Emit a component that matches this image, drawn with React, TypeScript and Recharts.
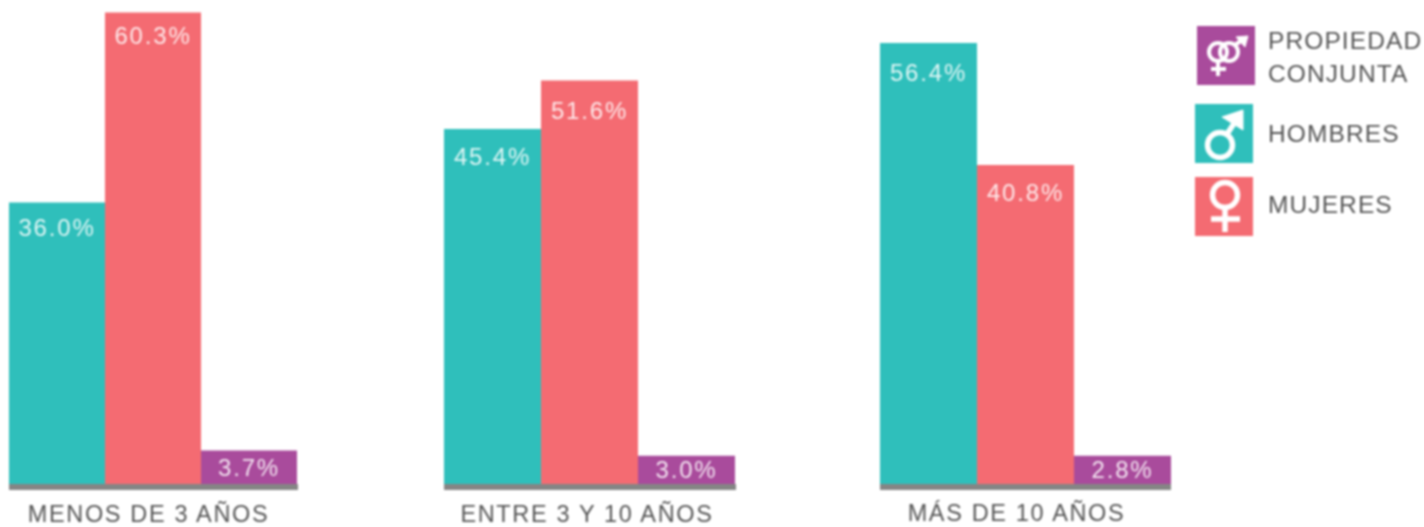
import React from "react"
import { BarChart, Bar, XAxis, YAxis, LabelList } from "recharts"

const categories = ["MENOS DE 3 AÑOS", "ENTRE 3 Y 10 AÑOS", "MÁS DE 10 AÑOS"]
const hombres = [36.0, 45.4, 56.4]
const mujeres = [60.3, 51.6, 40.8]
const conjunta = [3.7, 3.0, 2.8]
// the purple bars are drawn a little taller in the picture than their printed value
const conjuntaDrawn = [4.3, 3.6, 3.6]

const TEAL = "#2fbfbb"
const RED = "#f46b72"
const PURPLE = "#a94b9c"
const FONT = "'Liberation Sans', Arial, sans-serif"
const BASELINE = 484
const Y_MAX = 61.9

// position of each group on the page, the source placed these by hand
const groups = [
  { left: 9, width: 289, tickDx: -5, tickDy: 13.5, hombresOffset: 16, mujeresOffset: 14 },
  { left: 444, width: 292, tickDx: -3, tickDy: 13, hombresOffset: 19, mujeresOffset: 21 },
  { left: 880, width: 291, tickDx: -9, tickDy: 12, hombresOffset: 21, mujeresOffset: 19 },
]

const pct = (v: number) => `${v.toFixed(1)}%`

const labelStyle = {
  fill: "#fff",
  fillOpacity: 0.85,
  fontSize: 24,
  fontFamily: FONT,
  letterSpacing: 1.8,
}

const Group = ({ index }: { index: number }) => {
  const g = groups[index]
  const data = [
    {
      name: categories[index],
      hombres: hombres[index],
      mujeres: mujeres[index],
      conjunta: conjuntaDrawn[index],
      conjuntaLabel: pct(conjunta[index]),
    },
  ]
  return (
    <div style={{ position: "absolute", left: g.left - 40, top: 0 }}>
      <BarChart
        width={g.width + 80}
        height={527}
        data={data}
        margin={{ top: 0, right: 40, bottom: 0, left: 40 }}
        barCategoryGap={0}
        barGap={0}
      >
        <YAxis hide domain={[0, Y_MAX]} />
        <XAxis
          dataKey="name"
          height={527 - BASELINE}
          interval={0}
          tickLine={false}
          axisLine={{ stroke: "#858585", strokeWidth: 6, transform: "translate(0,3)" }}
          tick={{
            fill: "#555",
            fontSize: 23.5,
            fontFamily: FONT,
            letterSpacing: 1.65,
            dx: g.tickDx,
            dy: g.tickDy,
          }}
        />
        <Bar dataKey="hombres" fill={TEAL} isAnimationActive={false}>
          <LabelList dataKey="hombres" position="insideTop" offset={g.hombresOffset} formatter={pct} style={labelStyle} />
        </Bar>
        <Bar dataKey="mujeres" fill={RED} isAnimationActive={false}>
          <LabelList dataKey="mujeres" position="insideTop" offset={g.mujeresOffset} formatter={pct} style={labelStyle} />
        </Bar>
        <Bar dataKey="conjunta" fill={PURPLE} isAnimationActive={false}>
          <LabelList dataKey="conjuntaLabel" position="center" style={labelStyle} />
        </Bar>
      </BarChart>
    </div>
  )
}

const iconStroke = { stroke: "#fff", fill: "none", strokeWidth: 5.5 }

const MaleIcon = () => (
  <g {...iconStroke}>
    <circle cx={25} cy={41} r={12.5} />
    <line x1={32} y1={30} x2={42} y2={15} />
    <polygon points="48,6 27,13 48,26" fill="#fff" strokeWidth={1} />
  </g>
)

const FemaleIcon = () => (
  <g {...iconStroke}>
    <circle cx={30} cy={18} r={12.5} />
    <line x1={30} y1={30} x2={30} y2={55} />
    <line x1={16} y1={42} x2={45} y2={42} />
  </g>
)

const BothIcon = () => (
  <g {...iconStroke} strokeWidth={4}>
    <circle cx={21} cy={26} r={9} />
    <circle cx={32} cy={26} r={9} />
    <line x1={21} y1={35} x2={21} y2={50} />
    <line x1={14} y1={43} x2={29} y2={43} />
    <line x1={38} y1={19} x2={48} y2={12} />
    <polygon points="51,10 39,11 48,21" fill="#fff" strokeWidth={1} />
  </g>
)

const legendItems = [
  { left: 1197, top: 26, color: PURPLE, icon: <BothIcon />, lines: ["PROPIEDAD", "CONJUNTA"], textTop: 24 },
  { left: 1195, top: 104, color: TEAL, icon: <MaleIcon />, lines: ["HOMBRES"], textTop: 117 },
  { left: 1195, top: 177, color: RED, icon: <FemaleIcon />, lines: ["MUJERES"], textTop: 188 },
]

const Legend = () => (
  <>
    {legendItems.map((item) => (
      <React.Fragment key={item.lines[0]}>
        <svg
          width={58}
          height={59}
          viewBox="0 0 58 59"
          style={{ position: "absolute", left: item.left, top: item.top, background: item.color }}
        >
          {item.icon}
        </svg>
        <div
          style={{
            position: "absolute",
            left: 1268,
            top: item.textTop,
            fontFamily: FONT,
            fontSize: 24.5,
            letterSpacing: 1.1,
            lineHeight: "33px",
            color: "#555",
            whiteSpace: "nowrap",
            height: 33 * item.lines.length,
          }}
        >
          {item.lines.map((l) => (
            <div key={l}>{l}</div>
          ))}
        </div>
      </React.Fragment>
    ))}
  </>
)

export default function App() {
  return (
    <div
      style={{
        position: "absolute",
        left: 0,
        top: 0,
        width: 1424,
        height: 527,
        overflow: "hidden",
        background: "#fff",
        filter: "blur(0.8px)",
      }}
    >
      {groups.map((_, i) => (
        <Group key={i} index={i} />
      ))}
      <Legend />
    </div>
  )
}
